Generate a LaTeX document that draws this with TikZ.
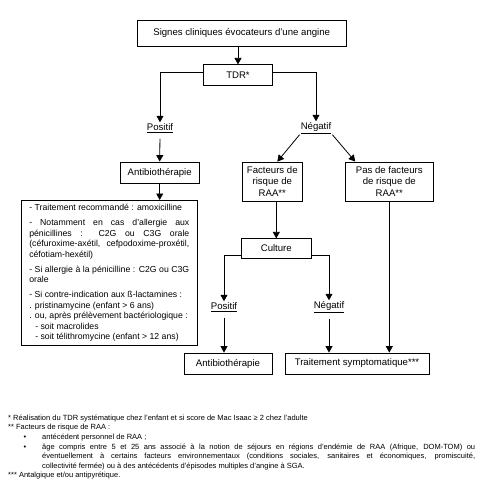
\documentclass[tikz,border=0pt]{standalone}
\usepackage{fontspec}
\setmainfont{Liberation Sans}
\usetikzlibrary{arrows.meta, positioning}

\newcommand{\boxfont}{\fontsize{9.6}{11.5}\selectfont}
\newcommand{\boxheight}{21pt}

\tikzstyle{box} = [% boxes of the flow chart
  rectangle,
  minimum height=\boxheight,
  inner sep=2pt,
  align=center,
  draw=black,
  line width=0.8pt,
  font=\boxfont
]
\tikzstyle{result} = [% result of a test, underlined
  inner sep=1pt,
  font=\boxfont
]
\tikzstyle{conduct} = [% box with the details of the treatment
  rectangle,
  text width=160pt,
  inner xsep=7.6pt,
  inner ysep=4pt,
  align=justify,
  draw=black,
  line width=0.8pt,
  font=\fontsize{8.7}{10.5}\selectfont
]
\tikzstyle{notes} = [% footnotes below the chart
  text width=467pt,
  inner sep=0pt,
  align=justify,
  font=\fontsize{7.5}{9.6}\selectfont
]
\tikzstyle{arrow} = [% arrow format
  -{Triangle[length=6.5pt,width=7pt]},
  line width=0.8pt
]

\begin{document}
\begin{tikzpicture}[x=1pt, y=-1pt]

\useasboundingbox (0,0) rectangle (483,479);

%%% Nodes
\node[box, minimum width=209pt, minimum height=26pt] (signes) at (241.7,33) {Signes cliniques évocateurs d’une angine};
\node[box, minimum width=69pt] (tdr) [below=18pt of signes, xshift=-3.7pt] {TDR*};

\node[result] (pos1) at (160,128) {\underline{Positif}};
\node[result] (neg1) at (316,128) {\underline{Négatif}};

\node[box, minimum width=79pt] (antibio1) at (159.7,172.5) {Antibiothérapie};
\node[conduct, anchor=north] (conduite) at (109.3,200) {%
  \setlength{\parskip}{4.5pt}\hyphenpenalty=10000
  - Traitement recommandé : amoxicilline\par
  - Notamment en cas d'allergie aux\linebreak pénicillines : C2G ou C3G orale\linebreak (céfuroxime-axétil, cefpodoxime-proxétil,\linebreak céfotiam-hexétil)\par
  - Si allergie à la pénicilline : C2G ou C3G\linebreak orale\par
  - Si contre-indication aux ß-lactamines :\newline
  . pristinamycine (enfant > 6 ans)\newline
  . ou, après prélèvement bactériologique :\newline
  \hspace*{6pt}- soit macrolides\newline
  \hspace*{6pt}- soit télithromycine (enfant > 12 ans)};

\node[box, minimum width=60.7pt, minimum height=39pt] (facteurs) at (272.3,181.5) {Facteurs de\\risque de\\RAA**};
\node[box, minimum width=87.3pt, minimum height=39pt] (sansfacteurs) at (389.3,181.5) {Pas de facteurs\\de risque de\\RAA**};

\node[box, minimum width=69.3pt, minimum height=19.5pt] (culture) [below=37pt of facteurs, xshift=4pt] {Culture};

\node[result] (pos2) at (224,307) {\underline{Positif}};
\node[result] (neg2) at (329,307) {\underline{Négatif}};

\node[box, minimum width=88pt] (antibio2) at (228,363.5) {Antibiothérapie};
\node[box, minimum width=144pt] (symptome) at (357,363.5) {Traitement symptomatique***};

%%% Notes
\node[notes, anchor=north west] (notes) at (8,414.5) {%
  * Réalisation du TDR systématique chez l'enfant et si score de Mac Isaac ≥ 2 chez l'adulte\par
  ** Facteurs de risque de RAA :\par
  \begin{list}{\textbullet}{\setlength{\leftmargin}{34pt}\setlength{\labelsep}{16pt}%
      \setlength{\labelwidth}{10pt}\setlength{\topsep}{0pt}\setlength{\partopsep}{0pt}%
      \setlength{\parsep}{0pt}\setlength{\itemsep}{0pt}}
    \item antécédent personnel de RAA ;
    \item âge compris entre 5 et 25 ans associé à la notion de séjours en régions d'endémie de RAA (Afrique, DOM-TOM) ou\linebreak éventuellement à certains facteurs environnementaux (conditions sociales, sanitaires et économiques, promiscuité,\linebreak collectivité fermée) ou à des antécédents d'épisodes multiples d'angine à SGA.
  \end{list}
  *** Antalgique et/ou antipyrétique.};

%%% Arrows
\draw[arrow] (signes.south -| tdr.north) -- (tdr.north);
\draw[arrow] ([yshift=3pt]tdr.west) -| (pos1.north);
\draw[arrow] ([yshift=3pt]tdr.east) -| (neg1.north);
\draw[arrow, shorten <=5pt] (pos1.south) -- (antibio1.north);
\draw[arrow] (antibio1.south) -- (antibio1.south |- conduite.north);
\draw[arrow] (neg1.south west) -- ([xshift=5pt]facteurs.north);
\draw[arrow] (neg1.south east) -- ([xshift=10pt]sansfacteurs.north west);
\draw[arrow] (culture.north |- facteurs.south) -- (culture.north);
\draw[arrow] ([yshift=3pt]culture.south west) -| (pos2.north);
\draw[arrow] ([yshift=3pt]culture.south east) -| (neg2.north);
\draw[arrow, shorten <=5pt] (pos2.south) -- (pos2.south |- antibio2.north);
\draw[arrow, shorten <=5pt] (neg2.south) -- (neg2.south |- symptome.north);
\draw[arrow] (sansfacteurs.south) -- (sansfacteurs.south |- symptome.north);

\end{tikzpicture}
\end{document}
